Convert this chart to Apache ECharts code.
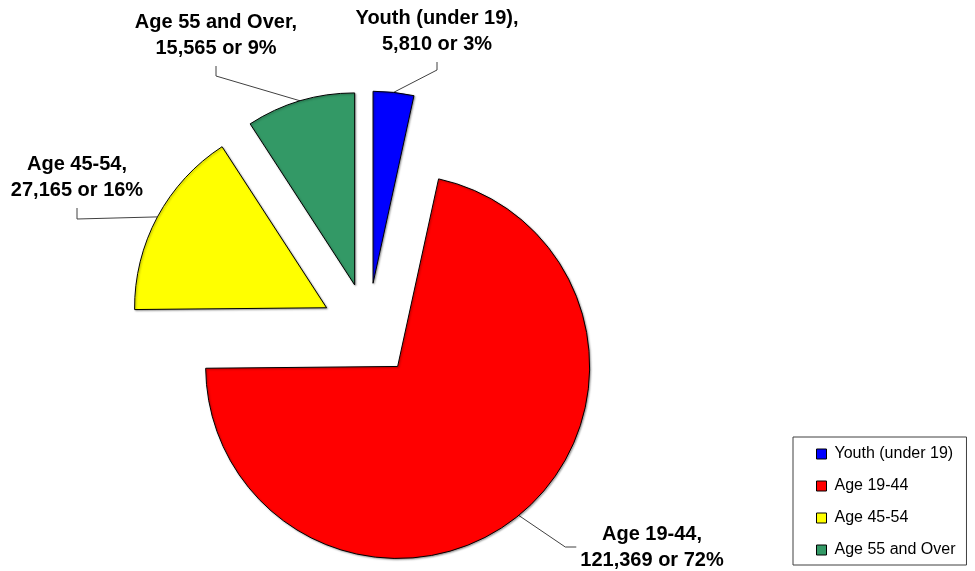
<!DOCTYPE html>
<html>
<head>
<meta charset="utf-8">
<script src="https://cdn.jsdelivr.net/npm/echarts@6/dist/echarts.min.js"></script>
<style>
    html, body { margin: 0; padding: 0; background: #fff; }
    #chart { width: 975px; height: 571px; }
</style>
</head>
<body>
<div id="chart"></div>
<script>
    var groups = ['Youth (under 19)', 'Age 19-44', 'Age 45-54', 'Age 55 and Over'];
    var counts = [5810, 121369, 27165, 15565];
    var shares = [3, 72, 16, 9];   // percentages as printed on the labels
    var colors = ['#0000ff', '#ff0000', '#ffff00', '#339966'];

    var center = [368, 330];
    var radius = 192;
    var explode = 47;

    // label centre and where the leader line meets it
    var labelSpots = [
        { x: 437, y: 31, side: 'bottom', bend: 8 },
        { x: 652, y: 547, side: 'left', bend: 11 },
        { x: 77, y: 177, side: 'bottom', bend: 11 },
        { x: 216, y: 35, side: 'bottom', bend: 10 }
    ];

    var font = '"Liberation Sans", Arial, sans-serif';

    // mid angle direction of each slice (start at 12 o'clock, clockwise)
    var total = counts.reduce(function (a, b) { return a + b; }, 0);
    var midDirs = [];
    var acc = 0;
    counts.forEach(function (v) {
        var a = (acc + v / 2) / total * 2 * Math.PI;
        midDirs.push([Math.sin(a), -Math.cos(a)]);
        acc += v;
    });

    /**
     * one pie per slice, every pie holds all values so the angles line up,
     * only slice i is painted; its centre is pushed out along the slice
     */
    var explodedSlice = function (i) {
        var c = [center[0] + explode * midDirs[i][0], center[1] + explode * midDirs[i][1]];
        return {
            type: 'pie',
            center: c,
            radius: radius,
            startAngle: 90,
            clockwise: true,
            avoidLabelOverlap: false,
            silent: true,
            emphasis: { disabled: true },
            label: {
                show: true,
                position: 'outside',
                fontFamily: font,
                fontWeight: 'bold',
                fontSize: 20,
                lineHeight: 26,
                color: '#000',
                formatter: function (p) {
                    return p.name + ',\n' + p.value.toLocaleString('en-US') + ' or ' + shares[p.dataIndex] + '%';
                }
            },
            labelLine: {
                show: true,
                lineStyle: { color: '#404040', width: 1 }
            },
            labelLayout: function (params) {
                var spot = labelSpots[i];
                var r = params.labelRect;
                var d = midDirs[i];
                var arc = [c[0] + radius * d[0], c[1] + radius * d[1]];
                var end, knee;
                if (spot.side === 'bottom') {
                    end = [spot.x, spot.y + r.height / 2 + 5];
                    knee = [spot.x, end[1] + spot.bend];
                } else {
                    end = [spot.x - r.width / 2 - 4, spot.y];
                    knee = [end[0] - spot.bend, spot.y];
                }
                return {
                    x: spot.x,
                    y: spot.y,
                    align: 'center',
                    verticalAlign: 'middle',
                    labelLinePoints: [arc, knee, end]
                };
            },
            data: groups.map(function (g, j) {
                if (j === i) {
                    return {
                        name: g,
                        value: counts[j],
                        itemStyle: {
                            color: colors[j],
                            borderColor: '#000',
                            borderWidth: 1,
                            shadowColor: 'rgba(0,0,0,0.35)',
                            shadowBlur: 2,
                            shadowOffsetX: 1,
                            shadowOffsetY: 1
                        }
                    };
                }
                return {
                    name: g,
                    value: counts[j],
                    itemStyle: { color: 'rgba(0,0,0,0)', borderWidth: 0 },
                    label: { show: false },
                    labelLine: { show: false }
                };
            })
        };
    };

    var chart = echarts.init(document.getElementById('chart'), null, { renderer: 'canvas' });

    chart.setOption({
        animation: false,
        legend: {
            orient: 'vertical',
            left: 793,
            top: 437,
            data: groups.map(function (g, i) {
                return { name: g, itemStyle: { color: colors[i], borderColor: '#000', borderWidth: 1, shadowBlur: 0 } };
            }),
            icon: 'rect',
            itemWidth: 10,
            itemHeight: 10,
            itemGap: 16,
            padding: [9, 11, 7, 23],
            borderColor: '#404040',
            borderWidth: 1,
            selectedMode: false,
            textStyle: {
                fontFamily: font,
                fontSize: 16,
                lineHeight: 16,
                color: '#000',
                padding: [0, 0, 0, 3]
            }
        },
        series: groups.map(function (g, i) { return explodedSlice(i); })
    });
</script>
</body>
</html>
